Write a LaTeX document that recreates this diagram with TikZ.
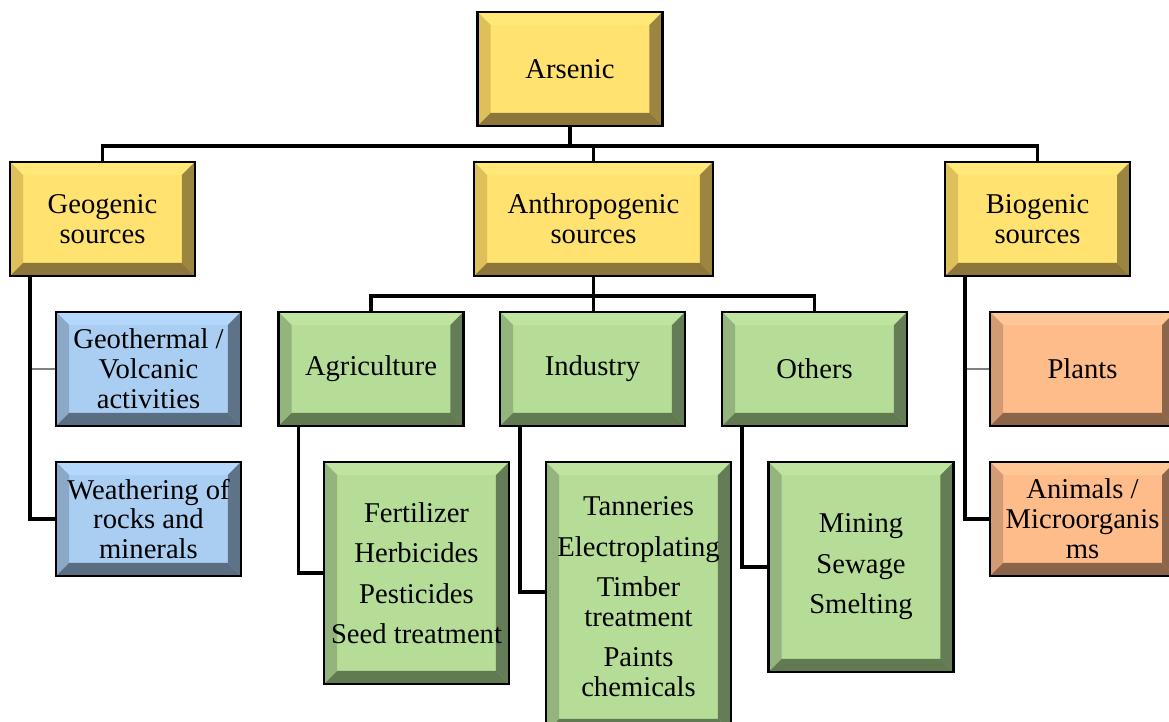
\documentclass[tikz,border=0pt]{standalone}
\usepackage{fontspec}
\setmainfont{Liberation Serif}
\definecolor{yelFace}{HTML}{FFE26F}
\definecolor{yelTop}{HTML}{FFE878}
\definecolor{yelLeft}{HTML}{DDC05A}
\definecolor{yelRight}{HTML}{9C8441}
\definecolor{yelBottom}{HTML}{8C763A}
\definecolor{bluFace}{HTML}{A9CEF2}
\definecolor{bluTop}{HTML}{B4D8FB}
\definecolor{bluLeft}{HTML}{8BA8C6}
\definecolor{bluRight}{HTML}{5E7388}
\definecolor{bluBottom}{HTML}{5A6E83}
\definecolor{grnFace}{HTML}{B5DD98}
\definecolor{grnTop}{HTML}{BEE59F}
\definecolor{grnLeft}{HTML}{93B47C}
\definecolor{grnRight}{HTML}{657D56}
\definecolor{grnBottom}{HTML}{627A52}
\definecolor{orgFace}{HTML}{FFBC8B}
\definecolor{orgTop}{HTML}{FFC795}
\definecolor{orgLeft}{HTML}{D39B74}
\definecolor{orgRight}{HTML}{8B664C}
\definecolor{orgBottom}{HTML}{8A6549}
\begin{document}
\begin{tikzpicture}[x=0.02cm, y=-0.02cm,
   bevel/.style n args={5}{draw=black, line width=1.3pt, fill=#1,
     minimum width=3.7cm, minimum height=2.28cm, align=center, inner sep=1pt,
     font=\fontsize{16.3}{17}\selectfont,
     path picture={
       \fill[#2] (path picture bounding box.north west) -- (path picture bounding box.north east)
         -- ([shift={(-0.26cm,-0.26cm)}]path picture bounding box.north east)
         -- ([shift={(0.26cm,-0.26cm)}]path picture bounding box.north west) -- cycle;
       \fill[#3] (path picture bounding box.north west) -- (path picture bounding box.south west)
         -- ([shift={(0.26cm,0.26cm)}]path picture bounding box.south west)
         -- ([shift={(0.26cm,-0.26cm)}]path picture bounding box.north west) -- cycle;
       \fill[#4] (path picture bounding box.north east) -- (path picture bounding box.south east)
         -- ([shift={(-0.26cm,0.26cm)}]path picture bounding box.south east)
         -- ([shift={(-0.26cm,-0.26cm)}]path picture bounding box.north east) -- cycle;
       \fill[#5] (path picture bounding box.south west) -- (path picture bounding box.south east)
         -- ([shift={(-0.26cm,0.26cm)}]path picture bounding box.south east)
         -- ([shift={(0.26cm,0.26cm)}]path picture bounding box.south west) -- cycle;
     }},
   yellowbox/.style={bevel={yelFace}{yelTop}{yelLeft}{yelRight}{yelBottom}},
   bluebox/.style={bevel={bluFace}{bluTop}{bluLeft}{bluRight}{bluBottom}},
   greenbox/.style={bevel={grnFace}{grnTop}{grnLeft}{grnRight}{grnBottom}},
   orangebox/.style={bevel={orgFace}{orgTop}{orgLeft}{orgRight}{orgBottom}},
   link/.style={draw=black, line width=1.9pt},
   thinlink/.style={draw=gray, line width=0.7pt}]

\useasboundingbox (0,0) rectangle (1169,722);

% top levels
\node[yellowbox] (arsenic) at (570,69) {Arsenic};
\node[yellowbox] (geo) at (102.5,219) {Geogenic\\sources};
\node[yellowbox, minimum width=4.78cm] (anthro) at (593.5,219) {Anthropogenic\\sources};
\node[yellowbox] (bio) at (1037.5,219) {Biogenic\\sources};

% geogenic
\node[bluebox] (geotherm) at (148.5,369) {Geothermal /\\Volcanic\\activities};
\node[bluebox] (weather) at (148.5,519) {Weathering of\\rocks and\\minerals};

% anthropogenic
\node[greenbox] (agri) at (371,369) {Agriculture};
\node[greenbox] (indus) at (592.5,369) {Industry};
\node[greenbox] (others) at (814.5,369) {Others};
\node[greenbox, minimum height=4.44cm] (fert) at (416.5,573)
   {Fertilizer\\[6pt]Herbicides\\[6pt]Pesticides\\[6pt]Seed treatment};
\node[greenbox, minimum height=5.4cm] (tann) at (638.5,597)
   {Tanneries\\[6pt]Electroplating\\[6pt]Timber\\treatment\\[6pt]Paints\\chemicals};
\node[greenbox, minimum height=4.2cm] (mining) at (861,567)
   {Mining\\[6pt]Sewage\\[6pt]Smelting};

% biogenic
\node[orangebox] (plants) at (1082.5,369) {Plants};
\node[orangebox] (animals) at (1082.5,519) {Animals /\\Microorganis\\ms};

% connectors
\draw[link] (arsenic.south) -- ++(0,19) coordinate (bus1);
\draw[link] (bus1) -| (geo.north);
\draw[link] (bus1) -| (anthro.north);
\draw[link] (bus1) -| (bio.north);
\draw[link] (anthro.south) -- ++(0,19) coordinate (bus2);
\draw[link] (bus2) -| (agri.north);
\draw[link] (bus2) -- (bus2 |- indus.north);
\draw[link] (bus2) -| (others.north);

\draw[thinlink] ([xshift=0.42cm]geo.south west) |- (geotherm.west);
\draw[link] ([xshift=0.42cm]geo.south west) |- (weather.west);
\draw[link] ([xshift=0.42cm]agri.south west) |- (fert.west);
\draw[link] ([xshift=0.42cm]indus.south west) |- ([yshift=0.1cm]tann.west);
\draw[link] ([xshift=0.42cm]others.south west) |- (mining.west);
\draw[thinlink] ([xshift=0.42cm]bio.south west) |- (plants.west);
\draw[link] ([xshift=0.42cm]bio.south west) |- (animals.west);

\end{tikzpicture}
\end{document}
